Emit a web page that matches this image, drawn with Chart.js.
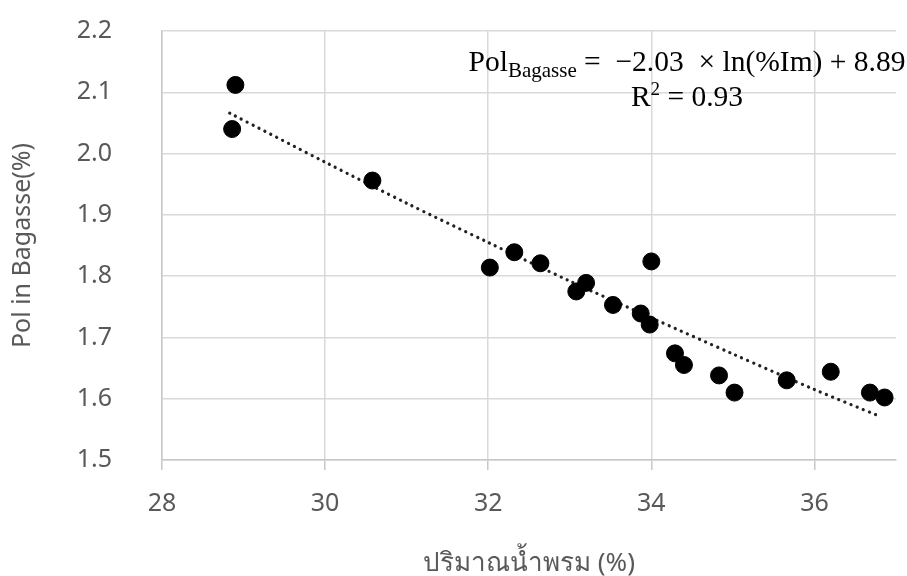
<!DOCTYPE html>
<html>
<head>
<meta charset="utf-8">
<script src="https://cdn.jsdelivr.net/npm/chart.js@4.4.1/dist/chart.umd.min.js"></script>
<style>
  html, body { margin: 0; padding: 0; background: #fff; }
  #wrap { position: relative; width: 907px; height: 576px; }
  #equation {
    position: absolute; left: 687px; top: 44px; transform: translateX(-50%);
    font-family: "Liberation Serif", "DejaVu Serif", serif; font-size: 29.5px;
    line-height: 35px; color: #000; text-align: center; white-space: nowrap;
  }
  #equation sub { font-size: 21px; vertical-align: -6px; line-height: 0; }
  #equation sup { font-size: 19px; vertical-align: 11px; line-height: 0; }
</style>
</head>
<body>
<div id="wrap">
  <canvas id="scatterChart" width="907" height="576"></canvas>
  <div id="equation">Pol<sub>Bagasse</sub> = &nbsp;−2.03 &nbsp;× ln(%Im) + 8.89<br>R<sup>2</sup> = 0.93</div>
</div>
<script>
const moisture = [28.90, 28.86, 30.58, 32.02, 32.32, 32.64, 33.08, 33.20, 34.00, 33.53,
                  33.87, 33.98, 34.29, 34.40, 34.83, 35.02, 35.66, 36.20, 36.68, 36.86];
const polBagasse = [2.112, 2.040, 1.956, 1.814, 1.839, 1.821, 1.775, 1.789, 1.824, 1.753,
                    1.739, 1.721, 1.674, 1.655, 1.638, 1.610, 1.630, 1.644, 1.610, 1.602];

// dotted trend line
const trendX = [28.83, 30, 31, 32, 33, 34, 35, 36, 36.77];
const trendY = [2.066, 1.986, 1.919, 1.855, 1.792, 1.732, 1.673, 1.615, 1.573];

const xTicks = [28, 30, 32, 34, 36];
const yTicks = [1.5, 1.6, 1.7, 1.8, 1.9, 2.0, 2.1, 2.2];

const labelFont = { family: '"Noto Sans", "Open Sans", sans-serif', size: 25 };
const titleFont = { family: '"Noto Sans", "Open Sans", sans-serif', size: 26 };
const gray = '#595959';

const ctx = document.getElementById('scatterChart').getContext('2d');
const chart = new Chart(ctx, {
  type: 'scatter',
  data: {
    datasets: [
      {
        label: 'Pol',
        data: moisture.map((x, i) => ({ x: x, y: polBagasse[i] })),
        backgroundColor: '#000',
        borderColor: '#000',
        pointRadius: 8.5,
        pointHoverRadius: 8.5
      },
      {
        label: 'Trend',
        type: 'line',
        data: trendX.map((x, i) => ({ x: x, y: trendY[i] })),
        borderColor: '#222',
        borderWidth: 3.2,
        borderDash: [0.1, 6.5],
        borderCapStyle: 'round',
        pointRadius: 0,
        tension: 0.3,
        fill: false
      }
    ]
  },
  options: {
    responsive: false,
    animation: false,
    layout: { padding: { top: 31, right: 11, left: 0, bottom: 0 } },
    plugins: { legend: { display: false }, tooltip: { enabled: false } },
    scales: {
      x: {
        type: 'linear',
        min: 28,
        max: 37,
        afterBuildTicks: s => { s.ticks = xTicks.map(v => ({ value: v })); },
        afterFit: s => { s.height = 116; },
        grid: { color: '#d9d9d9', lineWidth: 1.5, drawTicks: true, tickLength: 10, tickColor: '#c8c8c8' },
        border: { color: '#c8c8c8', width: 1.5 },
        ticks: { font: labelFont, color: gray, padding: 19 },
        title: {
          display: true,
          text: 'ปริมาณน้ำพรม (%)',
          font: titleFont,
          color: gray,
          padding: { top: 0, bottom: -3 }
        }
      },
      y: {
        min: 1.5,
        max: 2.2,
        afterBuildTicks: s => { s.ticks = yTicks.map(v => ({ value: v })); },
        // keep the label gap from pushing the plot area down
        afterFit: s => { s.width = 162; s.paddingTop = 15; s.paddingBottom = 15; },
        grid: { color: '#d9d9d9', lineWidth: 1.5, drawTicks: false },
        border: { color: '#c8c8c8', width: 1.5 },
        ticks: { font: labelFont, color: gray, padding: 50, callback: v => v.toFixed(1) },
        title: {
          display: true,
          text: 'Pol in Bagasse(%)',
          font: { family: labelFont.family, size: 25 },
          color: gray,
          padding: { top: 8, bottom: 0 }
        }
      }
    }
  }
});
</script>
</body>
</html>
